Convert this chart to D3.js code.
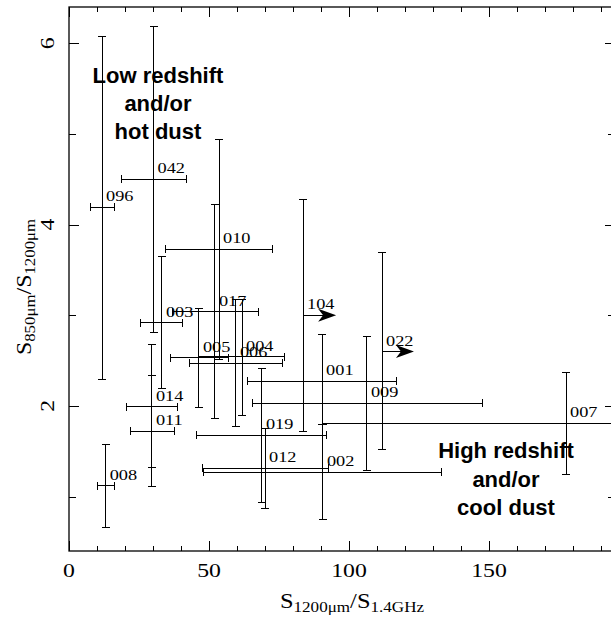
<!DOCTYPE html>
<html><head><meta charset="utf-8">
<script src="https://cdn.jsdelivr.net/npm/d3@7"></script>
<style>body{margin:0;background:#fff} svg{display:block}</style>
</head><body>
<svg id="c" width="611" height="628"></svg>
<script>
// ---- data ----
const ids   = ["096","042","010","003","017","005","006","004","014","011","008","104","001","022","009","019","012","002","007"];
const xVal  = [11.8, 30.2, 53.6, 33.2, 52.1, 46.4, 59.6, 61.8, 29.6, 29.6, 13.1, 83.6, 90.4, 111.8, 106.4, 68.9, 70.0, 90.7, 177.5];
const xLo   = [7.5, 18.6, 34.6, 25.7, 36.8, 36.1, 43.2, 46.4, 20.4, 21.8, 10.1, null, 63.6, null, 65.7, 45.4, 47.5, 48.2, 90.4];
const xHi   = [16.4, 41.8, 72.5, 40.7, 67.5, 56.8, 76.1, 77.1, 38.9, 37.5, 16.1, null, 116.8, null, 147.5, 92.1, 92.5, 133.2, 264.6];
const xLimitTip = [null,null,null,null,null,null,null,null,null,null,null, 95.4, null, 123.2, null,null,null,null,null];
const yVal  = [4.19, 4.50, 3.73, 2.92, 3.04, 2.53, 2.47, 2.54, 1.99, 1.72, 1.12, 3.00, 2.27, 2.60, 2.03, 1.675, 1.31, 1.27, 1.81];
const yLo   = [2.29, 2.81, 2.51, 2.19, 1.86, 1.98, 1.77, 1.90, 1.32, 1.11, 0.66, 1.72, 1.80, 1.52, 1.29, 0.935, 0.87, 0.75, 1.24];
const yHi   = [6.08, 6.19, 4.94, 3.65, 4.22, 3.07, 3.17, 3.17, 2.68, 2.34, 1.58, 4.28, 2.79, 3.69, 2.77, 2.41, 1.75, 1.80, 2.37];
const xMajorTicks = [0, 50, 100, 150];
const xMinorTicks = d3.range(10, 191, 10);
const yMajorTicks = [2, 4, 6];
const yMinorTicks = [1, 3, 5];
const annoLow  = ["Low redshift", "and/or", "hot dust"];
const annoHigh = ["High redshift", "and/or", "cool dust"];

// ---- layout ----
const W = 611, H = 628;
const L = 69, R = 615, T = 7, B = 551;
const svg = d3.select("#c");
svg.append("rect").attr("width", W).attr("height", H).attr("fill", "#fff");

const x = d3.scaleLinear().domain([0, 195]).range([L, R]);
const y = d3.scaleLinear().domain([0.4, 6.4]).range([B, T]);

svg.append("defs").append("clipPath").attr("id", "plot")
  .append("rect").attr("x", L).attr("y", T).attr("width", R - L).attr("height", B - T);

const serif = "'Liberation Serif', 'Times New Roman', serif";
const sx = 1.25;

// ---- axes (ticks inward on all four sides) ----
function styleAxis(g) {
  g.select(".domain").remove();
  g.selectAll("line").attr("stroke", "#000").attr("stroke-width", 1).attr("shape-rendering", "crispEdges");
}
svg.append("g").attr("transform", `translate(0,${B})`)
  .call(d3.axisBottom(x).tickValues(xMinorTicks).tickSize(-5).tickFormat("")).call(styleAxis);
svg.append("g").attr("transform", `translate(0,${B})`)
  .call(d3.axisBottom(x).tickValues(xMajorTicks).tickSize(-10).tickFormat("")).call(styleAxis);
svg.append("g").attr("transform", `translate(0,${T})`)
  .call(d3.axisTop(x).tickValues(xMinorTicks).tickSize(-5).tickFormat("")).call(styleAxis);
svg.append("g").attr("transform", `translate(0,${T})`)
  .call(d3.axisTop(x).tickValues(xMajorTicks).tickSize(-10).tickFormat("")).call(styleAxis);
svg.append("g").attr("transform", `translate(${L},0)`)
  .call(d3.axisLeft(y).tickValues(yMinorTicks).tickSize(-7).tickFormat("")).call(styleAxis);
svg.append("g").attr("transform", `translate(${L},0)`)
  .call(d3.axisLeft(y).tickValues(yMajorTicks).tickSize(-10).tickFormat("")).call(styleAxis);
svg.append("g").attr("transform", `translate(${R},0)`)
  .call(d3.axisRight(y).tickValues(yMinorTicks).tickSize(-7).tickFormat("")).call(styleAxis);
svg.append("g").attr("transform", `translate(${R},0)`)
  .call(d3.axisRight(y).tickValues(yMajorTicks).tickSize(-10).tickFormat("")).call(styleAxis);

// frame
svg.append("rect").attr("x", L).attr("y", T).attr("width", R - L).attr("height", B - T)
  .attr("fill", "none").attr("stroke", "#000").attr("stroke-width", 1.3);

// tick labels
svg.append("g").selectAll("text").data(xMajorTicks).join("text")
  .attr("transform", d => `translate(${x(d)},576.5) scale(${sx},1)`)
  .attr("text-anchor", "middle").attr("font-family", serif).attr("font-size", 19)
  .text(d => d);
svg.append("g").selectAll("text").data(yMajorTicks).join("text")
  .attr("transform", d => `translate(54,${y(d)}) rotate(-90) scale(${sx},1)`)
  .attr("text-anchor", "middle").attr("font-family", serif).attr("font-size", 19)
  .text(d => d);

// axis titles
function title(parent, parts, transform) {
  const t = parent.append("text").attr("transform", transform)
    .attr("text-anchor", "middle").attr("font-family", serif);
  let sub = false;
  parts.forEach(([s, isSub]) => {
    const ts = t.append("tspan").text(s).attr("font-size", isSub ? 14 : 20);
    if (isSub !== sub) { ts.attr("dy", isSub ? 4 : -4); sub = isSub; }
  });
  return t;
}
title(svg, [["S", false], ["1200\u03BCm", true], ["/S", false], ["1.4GHz", true]],
  `translate(352,608) scale(1.22,1)`);
title(svg, [["S", false], ["850\u03BCm", true], ["/S", false], ["1200\u03BCm", true]],
  `translate(31,287) rotate(-90) scale(1.2,1)`);

// ---- error bars ----
const pts = ids.map((id, i) => ({ id, x: xVal[i], xl: xLo[i], xh: xHi[i], tip: xLimitTip[i], y: yVal[i], yl: yLo[i], yh: yHi[i] }));
const gData = svg.append("g").attr("clip-path", "url(#plot)")
  .attr("stroke", "#000").attr("stroke-width", 1).attr("fill", "none").attr("shape-rendering", "crispEdges");
const cap = 4;
pts.forEach(p => {
  const g = gData.append("g");
  g.append("line").attr("x1", x(p.x)).attr("x2", x(p.x)).attr("y1", y(p.yl)).attr("y2", y(p.yh));
  g.append("line").attr("x1", x(p.x) - cap).attr("x2", x(p.x) + cap).attr("y1", y(p.yl)).attr("y2", y(p.yl));
  g.append("line").attr("x1", x(p.x) - cap).attr("x2", x(p.x) + cap).attr("y1", y(p.yh)).attr("y2", y(p.yh));
  if (p.tip != null) {
    const tx = x(p.tip), yy = y(p.y);
    g.append("line").attr("x1", x(p.x)).attr("x2", tx - 12).attr("y1", yy).attr("y2", yy);
    g.append("path").attr("d", `M${tx},${yy} L${tx - 18},${yy - 6.5} L${tx - 13},${yy} L${tx - 18},${yy + 6.5} Z`)
      .attr("fill", "#000").attr("stroke", "none").attr("shape-rendering", "auto");
  } else {
    g.append("line").attr("x1", x(p.xl)).attr("x2", x(p.xh)).attr("y1", y(p.y)).attr("y2", y(p.y));
    g.append("line").attr("x1", x(p.xl)).attr("x2", x(p.xl)).attr("y1", y(p.y) - cap).attr("y2", y(p.y) + cap);
    g.append("line").attr("x1", x(p.xh)).attr("x2", x(p.xh)).attr("y1", y(p.y) - cap).attr("y2", y(p.y) + cap);
  }
});

// source labels
svg.append("g").selectAll("text").data(pts).join("text")
  .attr("transform", d => `translate(${x(d.x) + 4},${y(d.y) - 6}) scale(1.22,1)`)
  .attr("font-family", serif).attr("font-size", 15).attr("fill", "#000")
  .text(d => d.id);

// annotations
const sans = "'Liberation Sans', Arial, Helvetica, sans-serif";
svg.append("g").selectAll("text").data(annoLow).join("text")
  .attr("x", 158).attr("y", (d, i) => 83 + i * 28)
  .attr("text-anchor", "middle").attr("font-family", sans).attr("font-weight", "bold").attr("font-size", 22)
  .text(d => d);
svg.append("g").selectAll("text").data(annoHigh).join("text")
  .attr("x", 506).attr("y", (d, i) => 458 + i * 28.5)
  .attr("text-anchor", "middle").attr("font-family", sans).attr("font-weight", "bold").attr("font-size", 22)
  .text(d => d);
</script>
</body></html>
